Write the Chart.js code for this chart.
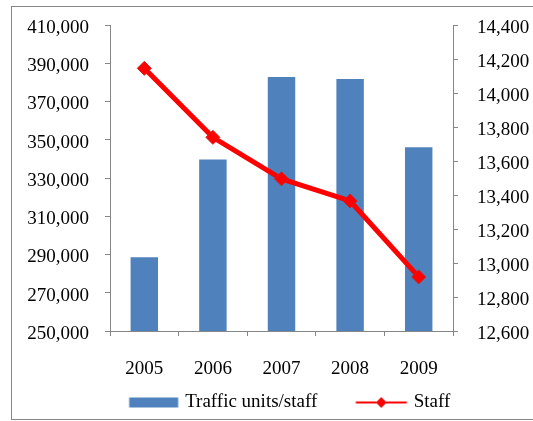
<!DOCTYPE html>
<html lang="en">
<head>
    <meta charset="UTF-8">
    <title>Traffic units per staff and staff numbers</title>
    <script src="https://cdn.jsdelivr.net/npm/chart.js"></script>
    <style>
        body { margin: 0; background: #fff; }
        #wrap { width: 533px; height: 421px; }
    </style>
</head>
<body>
<div id="wrap"><canvas id="staffChart" width="533" height="421"></canvas></div>
<script>
const years = ["2005", "2006", "2007", "2008", "2009"];
const trafficPerStaff = [288600, 339700, 382800, 381700, 346100];
const staff = [14145, 13739, 13495, 13365, 12918];

const BLUE = "#4F81BD";
const RED = "#FF0000";
const GREY = "#868686";
const FONT = { family: "'Liberation Serif', 'Times New Roman', serif", size: 19 };

// legend swatches: a plain bar block and a line with a diamond marker
// (canvas is wider than the legend box so the symbol can sit close to its text)
const SW = 80;
function swatch(draw) {
    const c = document.createElement("canvas");
    c.width = SW + 20;
    c.height = 16;
    draw(c.getContext("2d"));
    return c;
}
const barSwatch = swatch(ctx => {
    ctx.fillStyle = BLUE;
    ctx.fillRect(43.5, 3, 49, 10);
});
const lineSwatch = swatch(ctx => {
    ctx.strokeStyle = RED;
    ctx.lineWidth = 2;
    ctx.beginPath();
    ctx.moveTo(41.5, 8);
    ctx.lineTo(92.5, 8);
    ctx.stroke();
    ctx.beginPath();
    ctx.moveTo(67, 3);
    ctx.lineTo(72, 8);
    ctx.lineTo(67, 13);
    ctx.lineTo(62, 8);
    ctx.closePath();
    ctx.fillStyle = RED;
    ctx.fill();
    ctx.strokeStyle = "#D02020";
    ctx.lineWidth = 1;
    ctx.stroke();
});

// outer frame around the whole chart
const framePlugin = {
    id: "frame",
    beforeDraw(chart) {
        const ctx = chart.ctx;
        ctx.save();
        ctx.strokeStyle = GREY;
        ctx.lineWidth = 1;
        ctx.strokeRect(11.5, 6.5, 540, 413);
        ctx.restore();
    }
};

const fmt = v => v.toLocaleString("en-US");

// fixed axis widths; drop the extra end padding so layout.padding sets the plot top
const fixWidth = w => s => {
    s.width = w;
    s.paddingTop = 0;
    s.paddingBottom = 0;
};

new Chart(document.getElementById("staffChart"), {
    type: "bar",
    data: {
        labels: years,
        datasets: [
            {
                type: "bar",
                label: "Traffic units/staff",
                data: trafficPerStaff,
                backgroundColor: BLUE,
                yAxisID: "y",
                order: 2,
                categoryPercentage: 1,
                barPercentage: 0.4
            },
            {
                type: "line",
                label: "Staff",
                data: staff,
                borderColor: RED,
                borderWidth: 5,
                backgroundColor: RED,
                pointStyle: "rectRot",
                pointRadius: 7,
                pointBackgroundColor: RED,
                pointBorderColor: "#D02020",
                pointBorderWidth: 1,
                tension: 0,
                yAxisID: "y1",
                order: 1
            }
        ]
    },
    options: {
        responsive: false,
        animation: false,
        layout: { padding: { left: 13, right: 0, top: 25, bottom: -1 } },
        plugins: {
            tooltip: { enabled: false },
            legend: {
                position: "bottom",
                labels: {
                    usePointStyle: true,
                    pointStyleWidth: SW,
                    padding: 7,
                    color: "#000",
                    font: FONT,
                    generateLabels: () => [
                        { text: "Traffic units/staff", pointStyle: barSwatch, datasetIndex: 0, lineWidth: 0, hidden: false },
                        { text: "Staff", pointStyle: lineSwatch, datasetIndex: 1, lineWidth: 0, hidden: false }
                    ]
                }
            }
        },
        scales: {
            x: {
                grid: { display: true, drawOnChartArea: false, color: GREY, tickLength: 5, offset: true },
                border: { color: GREY },
                ticks: { color: "#000", font: FONT, padding: 22 },
                afterFit: s => { s.height = 55; }
            },
            y: {
                position: "left",
                min: 250000,
                max: 410000,
                grid: { drawOnChartArea: false, color: GREY, tickLength: 5 },
                border: { color: GREY },
                ticks: { stepSize: 20000, color: "#000", font: FONT, padding: 16, labelOffset: 3, callback: fmt },
                afterFit: fixWidth(97)
            },
            y1: {
                position: "right",
                min: 12600,
                max: 14400,
                grid: { drawOnChartArea: false, color: GREY, tickLength: 5 },
                border: { color: GREY },
                ticks: { stepSize: 200, color: "#000", font: FONT, padding: 19, labelOffset: 3, callback: fmt },
                afterFit: fixWidth(80)
            }
        }
    },
    plugins: [framePlugin]
});
</script>
</body>
</html>
